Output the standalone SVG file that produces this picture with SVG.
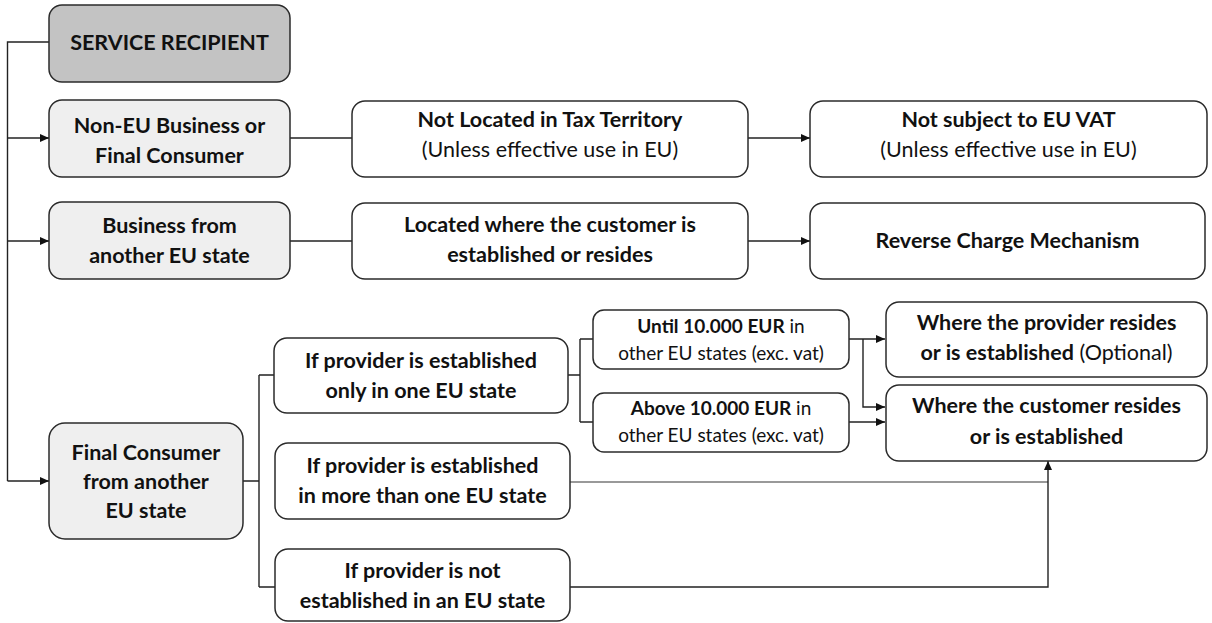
<svg xmlns="http://www.w3.org/2000/svg" width="1212" height="623" viewBox="0 0 1212 623">
<style>
.box{fill:#ffffff;stroke:#2b2b2b;stroke-width:1.5}
.lt{fill:#efefef}
.dk{fill:#c3c3c3}
.t{font-family:Lato,"Open Sans",sans-serif;font-size:21.5px;fill:#111;text-anchor:middle}
.b{font-weight:700}
.s{font-size:19px}
.c{fill:none;stroke:#222;stroke-width:1.4}
.g{stroke:#777}
</style>
<defs>
<marker id="ah" markerUnits="userSpaceOnUse" markerWidth="9" markerHeight="8" refX="9" refY="4" orient="auto">
<path d="M0,0 L9,4 L0,8 z" fill="#111"/>
</marker>
</defs>
<rect width="1212" height="623" fill="#ffffff"/>
<g id="connectors">
<path class="c" d="M49,42 H7.5 V481"/>
<path class="c" d="M7.5,138 H49" marker-end="url(#ah)"/>
<path class="c" d="M7.5,241 H49" marker-end="url(#ah)"/>
<path class="c" d="M7.5,481 H49" marker-end="url(#ah)"/>
<path class="c" d="M290,138 H352"/>
<path class="c" d="M748,138 H810" marker-end="url(#ah)"/>
<path class="c" d="M290,241 H352"/>
<path class="c" d="M748,241 H810" marker-end="url(#ah)"/>
<path class="c" d="M243,481 H259 M259,375 V587 M259,375 H274 M259,587 H275"/>
<path class="c" d="M568,375 H580 M580,339 V422 M580,339 H593 M580,422 H593"/>
<path class="c" d="M849,339 H885" marker-end="url(#ah)"/>
<path class="c" d="M863,339 V407 H885" marker-end="url(#ah)"/>
<path class="c" d="M849,422 H885" marker-end="url(#ah)"/>
<path class="c g" d="M570,482 H1048"/>
<path class="c" d="M570,587 H1048 V461" marker-end="url(#ah)"/>
</g>
<g id="service-recipient">
<rect class="box dk" x="49" y="5" width="241" height="77" rx="13"/>
<text class="t b" x="169.5" y="50">SERVICE RECIPIENT</text>
</g>
<g id="non-eu">
<rect class="box lt" x="49" y="100" width="241" height="77" rx="13"/>
<text class="t b" x="169.5" y="133">Non-EU Business or</text>
<text class="t b" x="169.5" y="163">Final Consumer</text>
</g>
<g id="business-eu">
<rect class="box lt" x="49" y="202" width="241" height="77" rx="13"/>
<text class="t b" x="169.5" y="233">Business from</text>
<text class="t b" x="169.5" y="263">another EU state</text>
</g>
<g id="final-consumer">
<rect class="box lt" x="49" y="423" width="194" height="116" rx="16"/>
<text class="t b" x="146" y="460">Final Consumer</text>
<text class="t b" x="146" y="489">from another</text>
<text class="t b" x="146" y="518">EU state</text>
</g>
<g id="not-located">
<rect class="box" x="352" y="101" width="396" height="76" rx="13"/>
<text class="t b" x="550" y="127">Not Located in Tax Territory</text>
<text class="t" x="550" y="157">(Unless effective use in EU)</text>
</g>
<g id="not-subject">
<rect class="box" x="810" y="101" width="397" height="76" rx="13"/>
<text class="t b" x="1008.5" y="127">Not subject to EU VAT</text>
<text class="t" x="1008.5" y="157">(Unless effective use in EU)</text>
</g>
<g id="located-customer">
<rect class="box" x="352" y="203" width="396" height="76" rx="13"/>
<text class="t b" x="550" y="232">Located where the customer is</text>
<text class="t b" x="550" y="262">established or resides</text>
</g>
<g id="reverse-charge">
<rect class="box" x="810" y="203" width="395" height="76" rx="13"/>
<text class="t b" x="1007.5" y="248">Reverse Charge Mechanism</text>
</g>
<g id="one-state">
<rect class="box" x="274" y="338" width="294" height="75" rx="13"/>
<text class="t b" x="421" y="368">If provider is established</text>
<text class="t b" x="421" y="398">only in one EU state</text>
</g>
<g id="more-states">
<rect class="box" x="275" y="443" width="295" height="76" rx="13"/>
<text class="t b" x="422.5" y="473">If provider is established</text>
<text class="t b" x="422.5" y="503">in more than one EU state</text>
</g>
<g id="not-eu">
<rect class="box" x="275" y="549" width="295" height="72" rx="13"/>
<text class="t b" x="422.5" y="578">If provider is not</text>
<text class="t b" x="422.5" y="608">established in an EU state</text>
</g>
<g id="until">
<rect class="box" x="593" y="310" width="256" height="59" rx="11"/>
<text class="t s" x="721" y="333"><tspan class="b">Until 10.000 EUR</tspan> in</text>
<text class="t s" x="721" y="360">other EU states (exc. vat)</text>
</g>
<g id="above">
<rect class="box" x="593" y="393" width="256" height="59" rx="11"/>
<text class="t s" x="721" y="415"><tspan class="b">Above 10.000 EUR</tspan> in</text>
<text class="t s" x="721" y="442">other EU states (exc. vat)</text>
</g>
<g id="provider-resides">
<rect class="box" x="886" y="302" width="321" height="75" rx="13"/>
<text class="t b" x="1046.5" y="330">Where the provider resides</text>
<text class="t" x="1046.5" y="360"><tspan class="b">or is established</tspan> (Optional)</text>
</g>
<g id="customer-resides">
<rect class="box" x="886" y="385" width="321" height="76" rx="13"/>
<text class="t b" x="1046.5" y="413">Where the customer resides</text>
<text class="t b" x="1046.5" y="444">or is established</text>
</g>
</svg>
